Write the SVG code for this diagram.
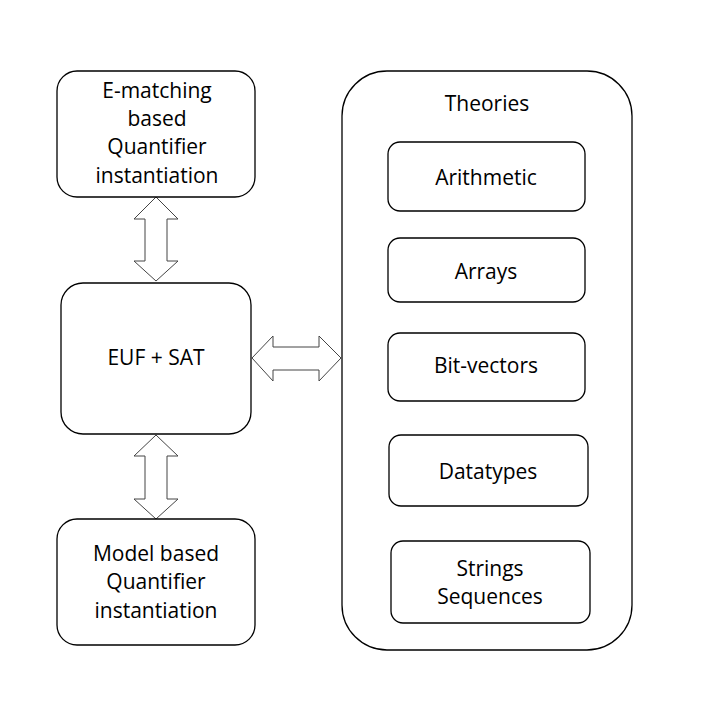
<svg xmlns="http://www.w3.org/2000/svg" width="710" height="720" viewBox="0 0 710 720">
<style>
.box{fill:#fff;stroke:#000;stroke-width:1.3}
.arr{fill:#fff;stroke:#444;stroke-width:1}
text{font-family:"Open Sans","Liberation Sans",sans-serif;font-size:21px;fill:#000;text-anchor:middle}
</style>
<rect width="710" height="720" fill="#fff"/>
<g id="connectors">
<polygon class="arr" points="156,197 178,219 167,219 167,261 178,261 156,281 134,261 145,261 145,219 134,219"/>
<polygon class="arr" points="156,435 178,456 167,456 167,499 178,499 156,519 134,499 145,499 145,456 134,456"/>
<polygon class="arr" points="252,358 273,336 273,347 319,347 319,336 341,358 319,381 319,370 273,370 273,381"/>
</g>
<g id="ematching">
<rect class="box" x="57" y="71" width="198" height="126" rx="20"/>
<text x="157" y="98">E-matching</text>
<text x="157" y="126">based</text>
<text x="157" y="154">Quantifier</text>
<text x="157" y="183">instantiation</text>
</g>
<g id="euf">
<rect class="box" x="61" y="283" width="190" height="151" rx="22"/>
<text x="156" y="365">EUF + SAT</text>
</g>
<g id="model">
<rect class="box" x="57" y="519" width="198" height="126" rx="20"/>
<text x="156" y="561">Model based</text>
<text x="156" y="589">Quantifier</text>
<text x="156" y="618">instantiation</text>
</g>
<g id="theories">
<rect class="box" x="342" y="71" width="290" height="579" rx="45"/>
<text x="487" y="111">Theories</text>
</g>
<g id="arithmetic">
<rect class="box" x="388" y="142" width="197" height="69" rx="12"/>
<text x="486" y="185">Arithmetic</text>
</g>
<g id="arrays">
<rect class="box" x="388" y="238" width="197" height="64" rx="12"/>
<text x="486" y="279">Arrays</text>
</g>
<g id="bitvectors">
<rect class="box" x="388" y="333" width="197" height="68" rx="12"/>
<text x="486" y="373">Bit-vectors</text>
</g>
<g id="datatypes">
<rect class="box" x="389" y="435" width="199" height="71" rx="12"/>
<text x="488" y="479">Datatypes</text>
</g>
<g id="strings">
<rect class="box" x="391" y="541" width="199" height="82" rx="12"/>
<text x="490" y="576">Strings</text>
<text x="490" y="604">Sequences</text>
</g>
</svg>
